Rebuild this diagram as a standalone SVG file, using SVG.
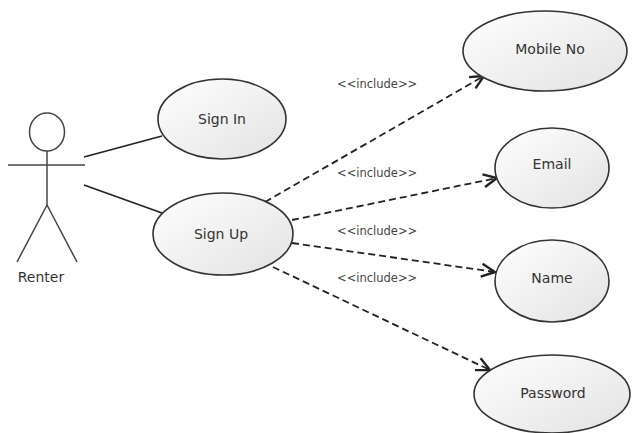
<svg xmlns="http://www.w3.org/2000/svg" width="632" height="433" viewBox="0 0 632 433">
  <defs>
    <linearGradient id="ucFill" x1="0" y1="0" x2="1" y2="1">
      <stop offset="0" stop-color="#ffffff"/>
      <stop offset="1" stop-color="#e2e2e2"/>
    </linearGradient>
    <marker id="openArrow" viewBox="0 0 16 16" refX="14.5" refY="8" markerWidth="16" markerHeight="16" markerUnits="userSpaceOnUse" orient="auto">
      <path d="M1,1.5 L14.5,8 L1,14.5" fill="none" stroke="#222" stroke-width="2.4" stroke-linejoin="miter"/>
    </marker>
  </defs>
  <style>
    .uc { fill: url(#ucFill); stroke: #333; stroke-width: 1.6; }
    .label { font-family: "DejaVu Sans", Tahoma, sans-serif; font-size: 14px; fill: #333; text-anchor: middle; }
    .stereo { font-family: "DejaVu Sans", Tahoma, sans-serif; font-size: 11.5px; fill: #444; }
    .assoc { stroke: #222; stroke-width: 1.8; fill: none; }
    .incl { stroke: #222; stroke-width: 1.8; fill: none; stroke-dasharray: 7 4; marker-end: url(#openArrow); }
    .actor { stroke: #444; stroke-width: 1.5; fill: none; }
  </style>
  <rect width="632" height="433" fill="#ffffff"/>

  <g id="renter">
    <ellipse class="actor" cx="47" cy="132" rx="17.5" ry="19"/>
    <line class="actor" x1="47" y1="151" x2="47" y2="205"/>
    <line class="actor" x1="8" y1="165" x2="85" y2="165"/>
    <line class="actor" x1="47" y1="205" x2="17" y2="262"/>
    <line class="actor" x1="47" y1="205" x2="77" y2="262"/>
    <text class="label" x="41" y="282">Renter</text>
  </g>

  <g id="connectors">
    <line class="assoc" x1="84" y1="157" x2="162" y2="136"/>
    <line class="assoc" x1="84" y1="185" x2="162" y2="213"/>
    <path class="incl" d="M265,202 L484,76"/>
    <path class="incl" d="M292,220 L497,178"/>
    <path class="incl" d="M292,243 L495,272"/>
    <path class="incl" d="M273,267 L490,370"/>
    <text class="stereo" x="337" y="88">&lt;&lt;include&gt;&gt;</text>
    <text class="stereo" x="337" y="177">&lt;&lt;include&gt;&gt;</text>
    <text class="stereo" x="337" y="235">&lt;&lt;include&gt;&gt;</text>
    <text class="stereo" x="337" y="282">&lt;&lt;include&gt;&gt;</text>
  </g>

  <g id="sign-in">
    <ellipse class="uc" cx="222" cy="119" rx="64" ry="40"/>
    <text class="label" x="222" y="124">Sign In</text>
  </g>

  <g id="sign-up">
    <ellipse class="uc" cx="223" cy="234" rx="70" ry="41"/>
    <text class="label" x="221" y="239">Sign Up</text>
  </g>

  <g id="mobile-no">
    <ellipse class="uc" cx="545" cy="51" rx="82" ry="40"/>
    <text class="label" x="550" y="54">Mobile No</text>
  </g>

  <g id="email">
    <ellipse class="uc" cx="552" cy="168" rx="57" ry="40"/>
    <text class="label" x="552" y="169">Email</text>
  </g>

  <g id="name">
    <ellipse class="uc" cx="552" cy="281" rx="57" ry="41"/>
    <text class="label" x="552" y="283">Name</text>
  </g>

  <g id="password">
    <ellipse class="uc" cx="552" cy="394" rx="78" ry="39"/>
    <text class="label" x="553" y="398">Password</text>
  </g>
</svg>
